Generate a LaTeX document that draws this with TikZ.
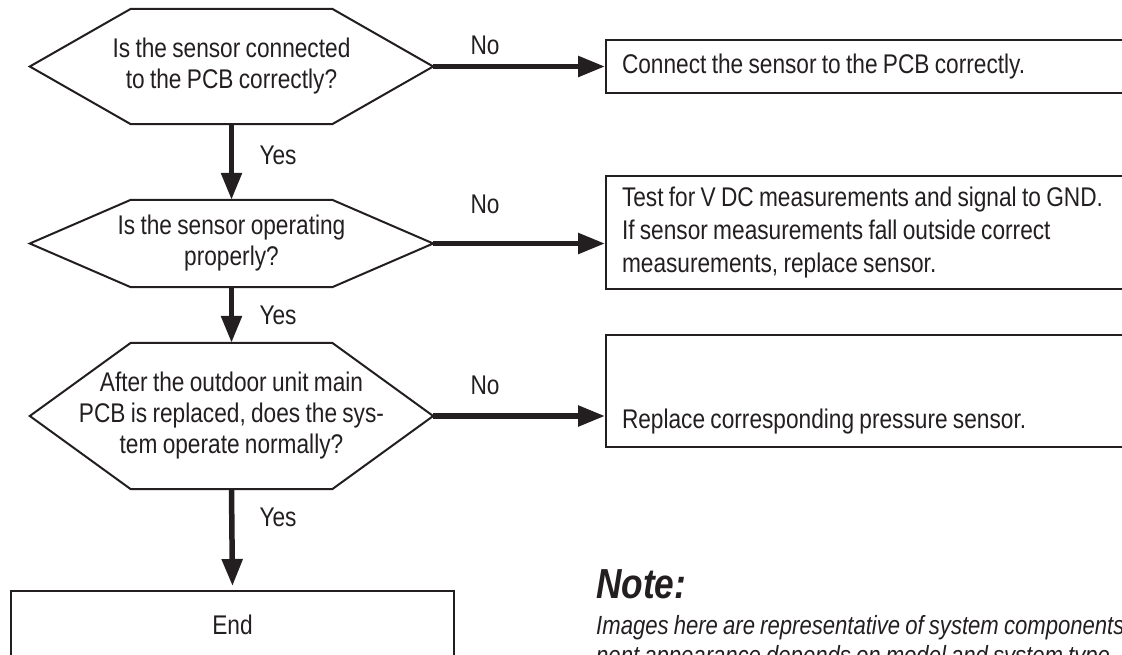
\documentclass[tikz,border=0pt]{standalone}
\usepackage{fontspec}
\setmainfont{Liberation Sans}[FakeStretch=0.84,WordSpace=0.84]
\usetikzlibrary{arrows.meta}
\definecolor{flowcolor0001}{RGB}{35,31,32}

\begin{document}
\begin{tikzpicture}[yscale=-1
,fstyle0/.style={draw=flowcolor0001,line width=2pt}
,fstyle1/.style={inner sep=0pt,align=center,text=flowcolor0001,font=\fontsize{27pt}{31pt}\selectfont}
,fstyle2/.style={draw=flowcolor0001,line width=2pt,anchor=north west,inner xsep=16pt,inner ysep=0pt,align=left,text width=528pt,minimum width=560pt,text=flowcolor0001,font=\fontsize{27pt}{33pt}\selectfont,execute at begin node={\spaceskip=0pt\xspaceskip=0pt}}
,fstyle3/.style={draw=flowcolor0001,line width=5.5pt,-{Triangle[length=27pt,width=20pt]}}
,fstyle4/.style={text=flowcolor0001,inner sep=0pt,font=\fontsize{27pt}{31pt}\selectfont}
]
\useasboundingbox (0pt,0pt) rectangle (1122pt,654pt);
\clip (0pt,0pt) rectangle (1122pt,654pt);
% questions
\node[fstyle1,minimum width=403pt,minimum height=115pt] (q1) at (231.5pt,66.5pt) {Is the sensor connected\\to the PCB correctly?};
\draw[fstyle0] (q1.west) -- ([xshift=101pt]q1.north west) -- ([xshift=-101pt]q1.north east) -- (q1.east) -- ([xshift=-101pt]q1.south east) -- ([xshift=101pt]q1.south west) -- cycle;
\node[fstyle1,minimum width=403pt,minimum height=87pt] (q2) at (231.5pt,243.5pt) {Is the sensor operating\\properly?};
\draw[fstyle0] (q2.west) -- ([xshift=101pt]q2.north west) -- ([xshift=-101pt]q2.north east) -- (q2.east) -- ([xshift=-101pt]q2.south east) -- ([xshift=101pt]q2.south west) -- cycle;
\node[fstyle1,minimum width=403pt,minimum height=146pt] (q3) at (231.5pt,416pt) {After the outdoor unit main\\PCB is replaced, does the sys-\\tem operate normally?};
\draw[fstyle0] (q3.west) -- ([xshift=101pt]q3.north west) -- ([xshift=-101pt]q3.north east) -- (q3.east) -- ([xshift=-101pt]q3.south east) -- ([xshift=101pt]q3.south west) -- cycle;
% actions
\node[fstyle2,minimum height=53pt] (a1) at (605pt,39pt) {Connect the sensor to the PCB correctly.};
\node[fstyle2,minimum height=113pt] (a2) at (605pt,175pt) {Test for V DC measurements and signal to GND.\\If sensor measurements fall outside correct\\measurements, replace sensor.};
\node[fstyle2,text height=93.5pt,text depth=18.5pt] (a3) at (605pt,334pt) {Replace corresponding pressure sensor.};
\node[fstyle0,anchor=north west,minimum width=443pt,minimum height=68pt,text=flowcolor0001,font=\fontsize{27pt}{31pt}\selectfont] (e1) at (10pt,590pt) {End};
% connectors
\draw[fstyle3] (q1.east) -- (q1.east -| a1.west);
\draw[fstyle3] (q2.east) -- (q2.east -| a2.west);
\draw[fstyle3] (q3.east) -- (q3.east -| a3.west);
\draw[fstyle3] (q1.south) -- (q2.north);
\draw[fstyle3] (q2.south) -- (q3.north);
\draw[fstyle3,shorten >=4pt] (q3.south) -- (e1.north);
\node[fstyle4] (n1) at (485pt,45pt) {No};
\node[fstyle4] (n2) at (485pt,204pt) {No};
\node[fstyle4] (n3) at (485pt,385pt) {No};
\node[fstyle4] (y1) at (278pt,155pt) {Yes};
\node[fstyle4] (y2) at (278pt,315pt) {Yes};
\node[fstyle4] (y3) at (278pt,517pt) {Yes};
% note
\node[anchor=base west,inner sep=0pt,text=flowcolor0001,font=\fontsize{42pt}{42pt}\selectfont\bfseries\itshape] (nt) at (596pt,598pt) {Note:};
\node[anchor=base west,inner sep=0pt,text=flowcolor0001,font=\fontsize{26.3pt}{30pt}\selectfont\itshape] (nb1) at (596pt,634pt) {Images here are representative of system components};
\node[anchor=base west,inner sep=0pt,text=flowcolor0001,font=\fontsize{26.3pt}{30pt}\selectfont\itshape] (nb2) at (596pt,664pt) {nent appearance depends on model and system type.};
\end{tikzpicture}
\end{document}
